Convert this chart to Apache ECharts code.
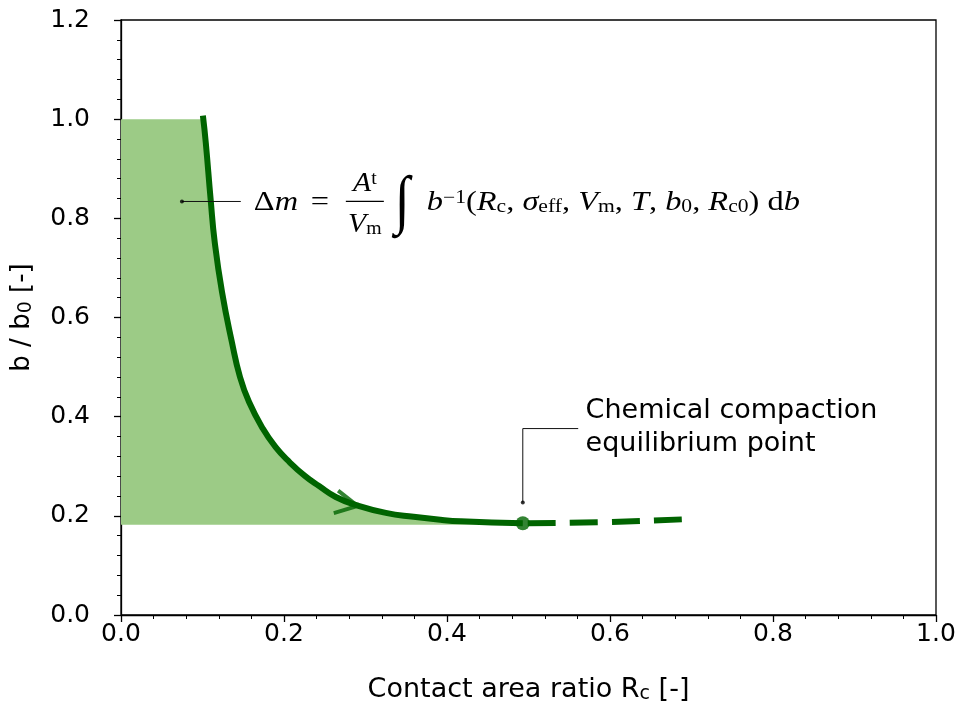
<!DOCTYPE html>
<html>

<head>
    <title>Chemical compaction curve</title>
    <meta charset="utf-8">
    <script src="https://cdn.jsdelivr.net/npm/echarts@6/dist/echarts.min.js"></script>
    <style>
        body { margin: 0; background: #fff; }
    </style>
</head>

<body>
    <div id="main" style="width: 961px;height:709px;"></div>

    <script type="text/javascript">
        // compaction path b/b0 vs Rc (solid part)
        var solidX = [0.1005, 0.104, 0.110, 0.115, 0.124, 0.136, 0.146, 0.157, 0.174, 0.190, 0.207, 0.226, 0.243, 0.2635, 0.290, 0.325, 0.359, 0.392, 0.417, 0.493];
        var solidY = [1.007, 0.953, 0.838, 0.752, 0.651, 0.551, 0.480, 0.430, 0.376, 0.338, 0.308, 0.280, 0.260, 0.238, 0.221, 0.206, 0.198, 0.192, 0.189, 0.185];

        // continuation past the equilibrium point (dashed)
        var dashX = [0.493, 0.588, 0.690];
        var dashY = [0.185, 0.187, 0.193];

        // shaded region: from Rc = 0 to the curve, between these b/b0 levels
        var fillTop = 1.0;
        var fillBottom = 0.182;

        var equilibrium = [0.493, 0.185];
        var arrowAt = [0.277, 0.224];

        // annotation anchors (data coords)
        var eqLeader = [[0.493, 0.227], [0.493, 0.376], [0.561, 0.376]];
        var eqLabelAt = [0.570, 0.378];
        var formulaLeader = [[0.0748, 0.834], [0.147, 0.834]];
        var formulaAt = [0.163, 0.832];

        var xTicks = [0, 0.2, 0.4, 0.6, 0.8, 1.0];
        var yTicks = [0, 0.2, 0.4, 0.6, 0.8, 1.0, 1.2];

        var green = '#006400';
        var fillColor = '#9ccb86';
        var sans = 'DejaVu Sans';
        var serif = 'Liberation Serif';

        var zip = function (xs, ys) { return xs.map(function (x, i) { return [x, ys[i]]; }); };

        var solidData = zip(solidX, solidY);
        var fillData = [[0, fillTop], [solidX[0], fillTop]].concat(solidData.slice(1));

        var myChart = echarts.init(document.getElementById('main'));

        var subStyle = { fontFamily: sans, fontSize: 19, verticalAlign: 'bottom', lineHeight: 12, color: '#000' };

        var axisCommon = {
            type: 'value',
            interval: 0.2,
            axisLine: { lineStyle: { color: '#000', width: 1.3 } },
            axisTick: { show: true, inside: false, length: 7, lineStyle: { color: '#000', width: 1.3 } },
            minorTick: { show: true, splitNumber: 5, length: 4, lineStyle: { color: '#000', width: 1 } },
            splitLine: { show: false }
        };

        var option = {
            animation: false,
            grid: {
                left: 120, right: 25, top: 20, bottom: 92,
                show: true, borderColor: '#000', borderWidth: 1.3
            },
            xAxis: Object.assign({}, axisCommon, {
                min: xTicks[0], max: xTicks[xTicks.length - 1],
                name: 'Contact area ratio R{sub|c} [-]',
                nameLocation: 'middle',
                nameGap: 61,
                nameTextStyle: { fontFamily: sans, fontSize: 27, lineHeight: 28, color: '#000', rich: { sub: subStyle } },
                axisLabel: {
                    fontFamily: sans, fontSize: 25, color: '#000', margin: 7,
                    formatter: function (v) { return v.toFixed(1); }
                }
            }),
            yAxis: Object.assign({}, axisCommon, {
                min: yTicks[0], max: yTicks[yTicks.length - 1],
                name: 'b / b{sub|0} [-]',
                nameLocation: 'middle',
                nameGap: 85,
                nameTextStyle: { fontFamily: sans, fontSize: 26, lineHeight: 28, color: '#000', rich: { sub: subStyle } },
                axisLabel: {
                    fontFamily: sans, fontSize: 25, color: '#000', margin: 31,
                    formatter: function (v) { return v.toFixed(1); }
                }
            }),
            series: [{
                // shaded area
                type: 'line',
                data: fillData,
                smooth: 0.5,
                symbol: 'none',
                lineStyle: { width: 0, opacity: 0 },
                areaStyle: { color: fillColor, opacity: 1, origin: fillBottom },
                z: 1
            }, {
                type: 'line',
                data: solidData,
                smooth: 0.5,
                symbol: 'none',
                lineStyle: { color: green, width: 6, cap: 'butt' },
                z: 3
            }, {
                type: 'line',
                data: zip(dashX, dashY),
                smooth: true,
                symbol: 'none',
                lineStyle: { color: green, width: 6, type: [28, 14], dashOffset: 37, cap: 'butt' },
                z: 3
            }, {
                // direction arrow
                type: 'scatter',
                data: [arrowAt],
                symbol: 'path://M0,0L22,11.6L0,23.2',
                symbolSize: [22, 23],
                symbolRotate: -11,
                itemStyle: { color: 'none', borderColor: green, borderWidth: 4 },
                z: 4
            }, {
                type: 'scatter',
                data: [equilibrium],
                symbol: 'circle',
                symbolSize: 14,
                itemStyle: { color: green },
                z: 5
            }, {
                type: 'line',
                data: eqLeader,
                symbol: 'none',
                lineStyle: { color: '#111', width: 1 },
                z: 6
            }, {
                type: 'line',
                data: formulaLeader,
                symbol: 'none',
                lineStyle: { color: '#111', width: 1 },
                z: 6
            }, {
                type: 'scatter',
                data: [eqLeader[0], formulaLeader[0]],
                symbol: 'circle',
                symbolSize: 4,
                itemStyle: { color: '#000' },
                z: 7
            }]
        };

        myChart.setOption(option);

        // text annotations placed from data coordinates
        var eqPx = myChart.convertToPixel({ gridIndex: 0 }, eqLabelAt);
        var fPx = myChart.convertToPixel({ gridIndex: 0 }, formulaAt);

        var fs = 27;
        var rich = {
            u: { fontFamily: serif, fontSize: fs, fill: '#000' },
            i: { fontFamily: serif, fontSize: fs, fontStyle: 'italic', fill: '#000' },
            sub: { fontFamily: serif, fontSize: 18, verticalAlign: 'bottom', lineHeight: 18, fill: '#000' },
            sup: { fontFamily: serif, fontSize: 18, verticalAlign: 'top', lineHeight: 16, fill: '#000' }
        };

        function txt(text, dx, dy, extra, sx, sy) {
            return {
                type: 'text',
                x: fPx[0] + dx,
                y: fPx[1] + dy,
                scaleX: sx || 1,
                scaleY: sy || 1,
                style: Object.assign({
                    text: text, rich: rich, fill: '#000',
                    font: fs + 'px "' + serif + '"',
                    verticalAlign: 'middle', align: 'left'
                }, extra || {}),
                z: 10
            };
        }

        myChart.setOption({
            graphic: [
                {
                    type: 'text',
                    x: eqPx[0], y: eqPx[1],
                    style: {
                        text: 'Chemical compaction\nequilibrium point',
                        font: '27px "' + sans + '"',
                        lineHeight: 33,
                        fill: '#000',
                        verticalAlign: 'middle', align: 'left'
                    },
                    z: 10
                },
                txt('{u|Δ}', 0, 0, null, 1.2),
                txt('{i|m}', 21, 0, null, 1.2),
                txt('{u|=}', 57, 0, null, 1.2),
                txt('{i|A}{sup|t}', 111, -19, { align: 'center' }, 1.1),
                {
                    type: 'line',
                    shape: { x1: fPx[0] + 92, y1: fPx[1] - 1, x2: fPx[0] + 130, y2: fPx[1] - 1 },
                    style: { stroke: '#000', lineWidth: 1.2 },
                    z: 10
                },
                txt('{i|V}{sub|m}', 111, 22, { align: 'center' }, 1.1),
                txt('{i|∫}', 141, 1, { rich: { i: { fontFamily: serif, fontSize: 48, fontStyle: 'italic', fill: '#000' } } }, 1.15, 1.35),
                txt('{i|b}{sup|−1}{u|(}{i|R}{sub|c}{u|, }{i|σ}{sub|eff}{u|, }{i|V}{sub|m}{u|, }{i|T}{u|, }{i|b}{sub|0}{u|, }{i|R}{sub|c0}{u|) d}{i|b}', 173, 0, null, 1.2)
            ]
        });
    </script>
</body>

</html>
